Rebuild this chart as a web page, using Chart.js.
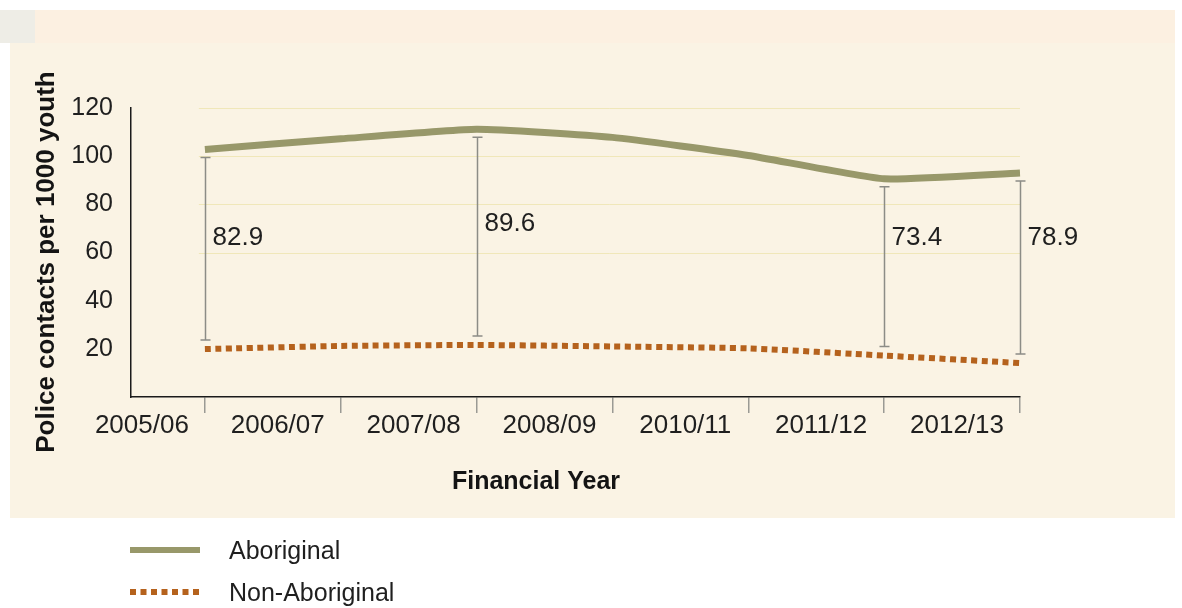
<!DOCTYPE html>
<html>
<head>
<meta charset="utf-8">
<title>Police contacts per 1000 youth</title>
<script src="https://cdn.jsdelivr.net/npm/chart.js@4.4.1/dist/chart.umd.min.js"></script>
<style>
    html, body { margin: 0; padding: 0; background: #ffffff; overflow: hidden; }
    .stage { position: relative; width: 1182px; height: 608px; }
    .corner { position: absolute; left: 0; top: 10px; width: 35px; height: 33px; background: #eeede6; }
    .band { position: absolute; left: 35px; top: 10px; width: 1140px; height: 33px; background: #fcf0e1; }
    .panel { position: absolute; left: 10px; top: 43px; width: 1165px; height: 475px; background: #faf3e4; }
    .chart-box { position: absolute; left: 0; top: 0; width: 1182px; height: 608px; }
</style>
</head>
<body>
<div class="stage">
    <div class="corner"></div>
    <div class="band"></div>
    <div class="panel"></div>
    <div class="chart-box"><canvas id="contactsChart"></canvas></div>
</div>
<script>
// --- Data ---
const years = ['2005/06', '2006/07', '2007/08', '2008/09', '2010/11', '2011/12', '2012/13'];
const aboriginal = [102.8, 107.2, 111.2, 107.8, 100.3, 90.6, 93.0];
const nonAboriginal = [19.9, 21.2, 21.6, 21.0, 20.2, 17.2, 14.1];
// years whose gap between the two series is marked with a bracket
const gapYears = ['2005/06', '2007/08', '2011/12', '2012/13'];
const yTicks = [20, 40, 60, 80, 100, 120];

const FONT = '"Liberation Sans", Arial, Helvetica, sans-serif';
const TEXT = '#1f1f1f';
const OLIVE = '#98986a';
const RUST = '#b5621d';

// Grid lines, gap brackets, axis titles and legend
const overlay = {
    id: 'overlay',
    beforeDatasetsDraw(chart) {
        const { ctx, scales: { x, y } } = chart;
        ctx.save();
        ctx.strokeStyle = 'rgba(232, 220, 150, 0.55)';
        ctx.lineWidth = 1;
        [60, 80, 100, 120].forEach(v => {
            const py = Math.round(y.getPixelForValue(v)) + 0.5;
            ctx.beginPath();
            ctx.moveTo(x.getPixelForValue(0) - 6, py);
            ctx.lineTo(x.getPixelForValue(years.length - 1), py);
            ctx.stroke();
        });
        ctx.restore();
    },
    afterDraw(chart) {
        const { ctx, scales: { x, y } } = chart;
        ctx.save();

        // brackets with the gap value beside them
        const labelLevel = { '2007/08': 72 };
        gapYears.forEach(year => {
            const i = years.indexOf(year);
            const px = Math.round(x.getPixelForValue(i)) + 0.5;
            const top = y.getPixelForValue(aboriginal[i]) + 8;
            const bottom = y.getPixelForValue(nonAboriginal[i]) - 9;
            ctx.strokeStyle = '#8c8c86';
            ctx.lineWidth = 1.5;
            ctx.beginPath();
            ctx.moveTo(px, top); ctx.lineTo(px, bottom);
            ctx.moveTo(px - 5, top); ctx.lineTo(px + 5, top);
            ctx.moveTo(px - 5, bottom); ctx.lineTo(px + 5, bottom);
            ctx.stroke();

            const gap = (aboriginal[i] - nonAboriginal[i]).toFixed(1);
            ctx.fillStyle = TEXT;
            ctx.font = `26px ${FONT}`;
            ctx.textAlign = 'left';
            ctx.textBaseline = 'middle';
            ctx.fillText(gap, px + 7, y.getPixelForValue(labelLevel[year] || 66));
        });

        // axis titles
        ctx.fillStyle = '#141414';
        ctx.font = `bold 25px ${FONT}`;
        ctx.textAlign = 'center';
        ctx.textBaseline = 'middle';
        ctx.fillText('Financial Year', 536, 482);
        ctx.save();
        ctx.translate(47, 262);
        ctx.rotate(-Math.PI / 2);
        ctx.font = `bold 26px ${FONT}`;
        ctx.fillText('Police contacts per 1000 youth', 0, 0);
        ctx.restore();

        // legend
        chart.data.datasets.forEach((ds, k) => {
            const ly = 550 + k * 42;
            ctx.strokeStyle = ds.borderColor;
            ctx.lineWidth = 6;
            ctx.setLineDash(ds.borderDash || []);
            ctx.beginPath();
            ctx.moveTo(130, ly);
            ctx.lineTo(200, ly);
            ctx.stroke();
            ctx.setLineDash([]);
            ctx.fillStyle = TEXT;
            ctx.font = `25px ${FONT}`;
            ctx.textAlign = 'left';
            ctx.textBaseline = 'middle';
            ctx.fillText(ds.label, 229, ly + 2);
        });
        ctx.restore();
    }
};

const ctx = document.getElementById('contactsChart');

new Chart(ctx, {
    type: 'line',
    data: {
        datasets: [{
            label: 'Aboriginal',
            data: aboriginal.map((v, i) => ({ x: i, y: v })),
            borderColor: OLIVE,
            borderWidth: 7,
            tension: 0.15,
            pointRadius: 0,
            clip: 8
        }, {
            label: 'Non-Aboriginal',
            data: nonAboriginal.map((v, i) => ({ x: i, y: v })),
            borderColor: RUST,
            borderWidth: 6,
            borderDash: [6, 4.5],
            tension: 0.15,
            pointRadius: 0,
            clip: 8
        }]
    },
    options: {
        responsive: true,
        maintainAspectRatio: false,
        animation: false,
        layout: { padding: { top: 108, right: 162, left: 0, bottom: 0 } },
        plugins: {
            legend: { display: false },
            tooltip: { enabled: false }
        },
        scales: {
            x: {
                type: 'linear',
                min: -0.544,
                max: years.length - 1,
                afterBuildTicks: scale => { scale.ticks = years.map((_, i) => ({ value: i })); },
                afterFit: scale => { scale.height = 211; },
                grid: { drawOnChartArea: false, drawTicks: true, tickLength: 16, color: '#9a9a94', lineWidth: 1.5 },
                border: { color: '#1a1a1a', width: 1.5 },
                ticks: {
                    callback: v => years[v],
                    labelOffset: -63,
                    padding: -3,
                    autoSkip: false,
                    maxRotation: 0,
                    color: TEXT,
                    font: { family: FONT, size: 26 }
                }
            },
            y: {
                min: 0,
                max: 120,
                afterBuildTicks: scale => { scale.ticks = [0, ...yTicks].map(v => ({ value: v })); },
                afterFit: scale => { scale.width = 131; },
                grid: { display: false },
                border: { color: '#1a1a1a', width: 1.5 },
                ticks: {
                    callback: v => (v === 0 ? '' : v),
                    padding: 10,
                    color: TEXT,
                    font: { family: FONT, size: 25 }
                }
            }
        }
    },
    plugins: [overlay]
});
</script>
</body>
</html>
